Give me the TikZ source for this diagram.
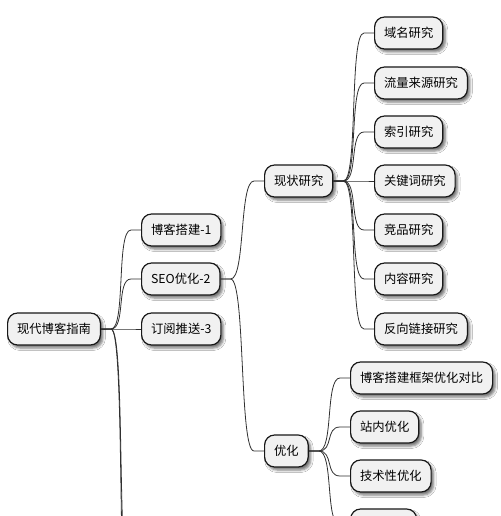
\documentclass[tikz,border=0pt]{standalone}
\usepackage{fontspec}
\setmainfont{Noto Sans CJK SC}
\usetikzlibrary{calc,shadows.blur}
\definecolor{nodefill}{HTML}{F1F1F1}
\definecolor{nodeline}{HTML}{181818}
\definecolor{connline}{HTML}{303030}
\tikzset{
 mm/.style={draw=nodeline, line width=1.2pt, fill=nodefill, rounded corners=10pt,
   minimum height=32pt, inner xsep=9.5pt, inner ysep=0pt, anchor=west,
   font=\fontsize{12.3pt}{14pt}\selectfont,
   blur shadow={shadow xshift=2.5pt, shadow yshift=-3pt, shadow blur radius=2.5pt, shadow opacity=55}},
 conn/.style={draw=connline, line width=0.8pt},
}
\newcommand\mmlink[2]{\draw[conn] let \p1=(#1.east), \p2=(#2.west) in (\p1) -- (\x1+10pt,\y1) .. controls (\x1+25pt,\y1) and (\x2-25pt,\y2) .. (\x2-10pt,\y2) -- (\p2);}
\begin{document}
\begin{tikzpicture}[x=1pt,y=-1pt]
\clip (0,0) rectangle (500,516);
\fill[white] (0,0) rectangle (500,516);
% nodes
\node[mm] (root) at (7,329) {现代博客指南};
\node[mm] (b1) at (141,230) {博客搭建-1};
\node[mm] (b2) at (141,279) {SEO优化-2};
\node[mm] (b3) at (141,329) {订阅推送-3};
\coordinate (b4) at (141,590);
\coordinate (b5) at (141,650);
\node[mm] (xz) at (264,181) {现状研究};
\node[mm] (yh) at (264,451) {优化};
\node[mm] (r1) at (374,33) {域名研究};
\node[mm] (r2) at (374,83) {流量来源研究};
\node[mm] (r3) at (374,132) {索引研究};
\node[mm] (r4) at (374,181) {关键词研究};
\node[mm] (r5) at (374,230) {竞品研究};
\node[mm] (r6) at (374,279) {内容研究};
\node[mm] (r7) at (374,329) {反向链接研究};
\node[mm] (o1) at (350,378) {博客搭建框架优化对比};
\node[mm] (o2) at (350,427) {站内优化};
\node[mm] (o3) at (350,476) {技术性优化};
\node[mm, minimum width=66pt] (o4) at (350,525) {};
% connectors
\mmlink{root}{b1}
\mmlink{root}{b2}
\mmlink{root}{b3}
\mmlink{root}{b4}
\mmlink{root}{b5}
\mmlink{b2}{xz}
\mmlink{b2}{yh}
\mmlink{xz}{r1}
\mmlink{xz}{r2}
\mmlink{xz}{r3}
\mmlink{xz}{r4}
\mmlink{xz}{r5}
\mmlink{xz}{r6}
\mmlink{xz}{r7}
\mmlink{yh}{o1}
\mmlink{yh}{o2}
\mmlink{yh}{o3}
\mmlink{yh}{o4}
\end{tikzpicture}
\end{document}
